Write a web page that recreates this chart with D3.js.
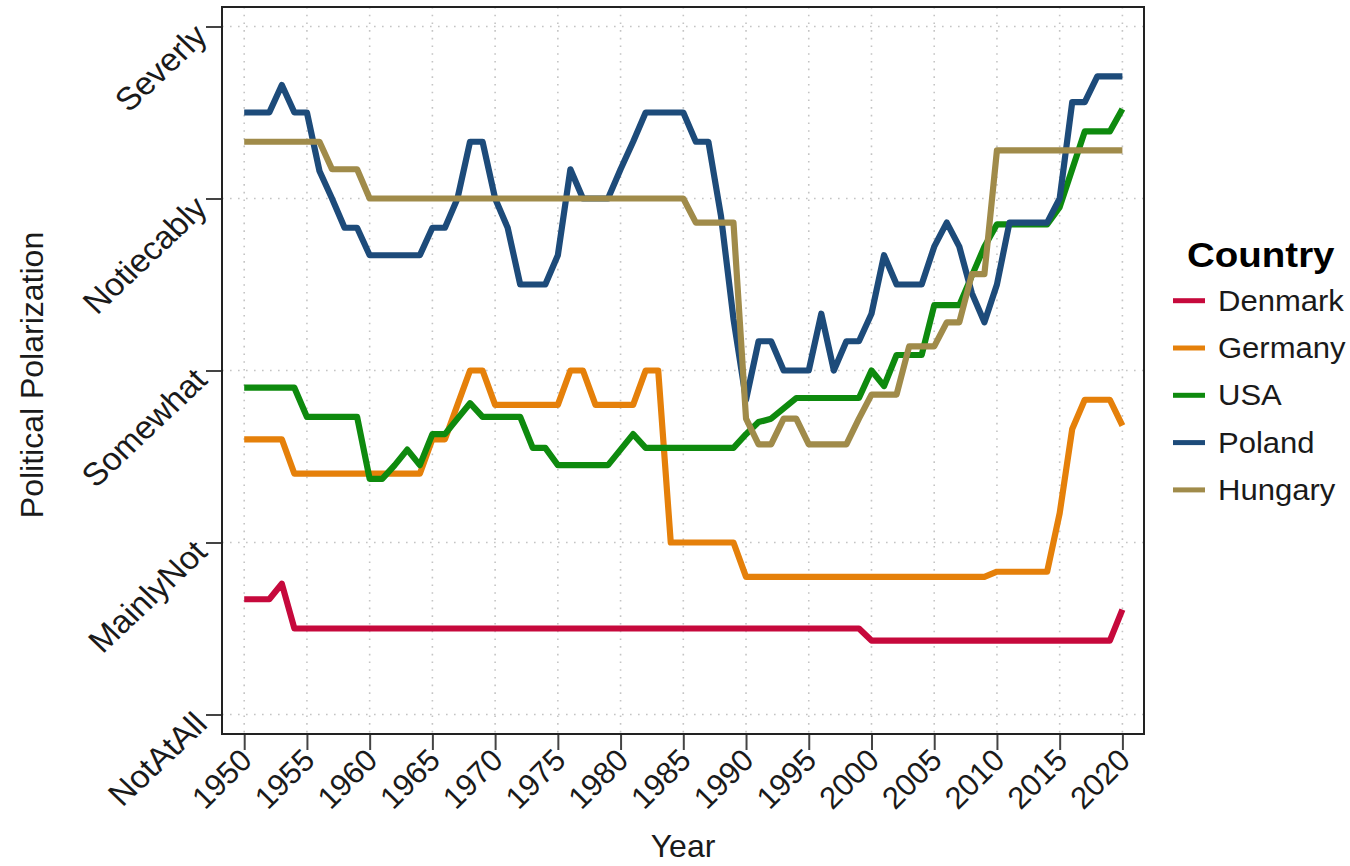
<!DOCTYPE html>
<html>
<head>
<meta charset="utf-8">
<script src="https://cdn.jsdelivr.net/npm/d3@7/dist/d3.min.js"></script>
<style>
  html, body { margin: 0; padding: 0; background: #fff; }
  svg { display: block; font-family: "Liberation Sans", Arial, Helvetica, sans-serif; }
</style>
</head>
<body>
<svg id="chart" width="1350" height="866"></svg>
<script>
// ---------- DATA ----------
const startYear = 1950, endYear = 2020;
const years = d3.range(startYear, endYear + 1);
const countries = ["Denmark", "Germany", "USA", "Poland", "Hungary"];
const colors = ["#C6093C", "#E5800A", "#0E8A0E", "#1D4B7A", "#A08B4A"];
const levelLabels = ["NotAtAll", "MainlyNot", "Somewhat", "Notiecably", "Severly"];
const xTickYears = d3.range(1950, 2021, 5);

// values per year 1950..2020
const denmark = [
  0.67,0.67,0.67,0.76,0.50,0.50,0.50,0.50,0.50,0.50,
  0.50,0.50,0.50,0.50,0.50,0.50,0.50,0.50,0.50,0.50,
  0.50,0.50,0.50,0.50,0.50,0.50,0.50,0.50,0.50,0.50,
  0.50,0.50,0.50,0.50,0.50,0.50,0.50,0.50,0.50,0.50,
  0.50,0.50,0.50,0.50,0.50,0.50,0.50,0.50,0.50,0.50,
  0.43,0.43,0.43,0.43,0.43,0.43,0.43,0.43,0.43,0.43,
  0.43,0.43,0.43,0.43,0.43,0.43,0.43,0.43,0.43,0.43,
  0.61];
const germany = [
  1.60,1.60,1.60,1.60,1.40,1.40,1.40,1.40,1.40,1.40,
  1.40,1.40,1.40,1.40,1.40,1.60,1.60,1.80,2.00,2.00,
  1.80,1.80,1.80,1.80,1.80,1.80,2.00,2.00,1.80,1.80,
  1.80,1.80,2.00,2.00,1.00,1.00,1.00,1.00,1.00,1.00,
  0.80,0.80,0.80,0.80,0.80,0.80,0.80,0.80,0.80,0.80,
  0.80,0.80,0.80,0.80,0.80,0.80,0.80,0.80,0.80,0.80,
  0.83,0.83,0.83,0.83,0.83,1.17,1.66,1.83,1.83,1.83,
  1.68];
const usa = [
  1.90,1.90,1.90,1.90,1.90,1.73,1.73,1.73,1.73,1.73,
  1.37,1.37,1.45,1.54,1.45,1.63,1.63,1.72,1.81,1.73,
  1.73,1.73,1.73,1.55,1.55,1.45,1.45,1.45,1.45,1.45,
  1.54,1.63,1.55,1.55,1.55,1.55,1.55,1.55,1.55,1.55,
  1.63,1.70,1.72,1.78,1.84,1.84,1.84,1.84,1.84,1.84,
  2.00,1.91,2.09,2.09,2.09,2.38,2.38,2.38,2.55,2.72,
  2.85,2.85,2.85,2.85,2.85,2.95,3.17,3.39,3.39,3.39,
  3.52];
const poland = [
  3.50,3.50,3.50,3.66,3.50,3.50,3.16,3.00,2.83,2.83,
  2.67,2.67,2.67,2.67,2.67,2.83,2.83,3.00,3.33,3.33,
  3.00,2.83,2.50,2.50,2.50,2.67,3.17,3.00,3.00,3.00,
  3.17,3.33,3.50,3.50,3.50,3.50,3.33,3.33,2.90,2.30,
  1.83,2.17,2.17,2.00,2.00,2.00,2.33,2.00,2.17,2.17,
  2.33,2.67,2.50,2.50,2.50,2.72,2.86,2.72,2.45,2.28,
  2.50,2.86,2.86,2.86,2.86,3.00,3.56,3.56,3.71,3.71,
  3.71];
const hungary = [
  3.33,3.33,3.33,3.33,3.33,3.33,3.33,3.17,3.17,3.17,
  3.00,3.00,3.00,3.00,3.00,3.00,3.00,3.00,3.00,3.00,
  3.00,3.00,3.00,3.00,3.00,3.00,3.00,3.00,3.00,3.00,
  3.00,3.00,3.00,3.00,3.00,3.00,2.86,2.86,2.86,2.86,
  1.72,1.57,1.57,1.72,1.72,1.57,1.57,1.57,1.57,1.72,
  1.86,1.86,1.86,2.14,2.14,2.14,2.28,2.28,2.56,2.56,
  3.28,3.28,3.28,3.28,3.28,3.28,3.28,3.28,3.28,3.28,
  3.28];
const seriesValues = [denmark, germany, usa, poland, hungary];

// ---------- LAYOUT ----------
const frame = { left: 222, right: 1144, top: 7, bottom: 734 };
const x = d3.scaleLinear().domain([startYear, endYear]).range([244.2, 1122.4]);
const y = d3.scaleLinear().domain([0, 4]).range([714.5, 26.5]);

const svg = d3.select("#chart");
const textColor = "#1a1a1a";

// grid
const grid = svg.append("g");
grid.selectAll("line.h").data(d3.range(0, 5)).enter().append("line")
  .attr("x1", frame.left).attr("x2", frame.right)
  .attr("y1", d => y(d)).attr("y2", d => y(d))
  .attr("stroke", "#c4c4c4").attr("stroke-width", 1.6)
  .attr("stroke-dasharray", "1.6,6.4");
grid.selectAll("line.v").data(xTickYears).enter().append("line")
  .attr("y1", frame.top).attr("y2", frame.bottom)
  .attr("x1", d => x(d)).attr("x2", d => x(d))
  .attr("stroke", "#c4c4c4").attr("stroke-width", 1.6)
  .attr("stroke-dasharray", "1.6,6.1");

// lines
const line = d3.line()
  .x((d, i) => x(years[i]))
  .y(d => y(d));
svg.append("g").selectAll("path").data(seriesValues).enter().append("path")
  .attr("d", d => line(d))
  .attr("fill", "none")
  .attr("stroke", (d, i) => colors[i])
  .attr("stroke-width", 6.2)
  .attr("stroke-linejoin", "round")
  .attr("stroke-linecap", "butt");

// frame
svg.append("rect")
  .attr("x", frame.left).attr("y", frame.top)
  .attr("width", frame.right - frame.left).attr("height", frame.bottom - frame.top)
  .attr("fill", "none").attr("stroke", "#222").attr("stroke-width", 2);

// y axis
const yAxis = d3.axisLeft(y).tickValues([0, 1, 2, 3, 4]).tickSize(15).tickFormat(d => levelLabels[d]);
const gy = svg.append("g").attr("transform", `translate(${frame.left - 1},0)`).call(yAxis);
gy.select(".domain").remove();
gy.selectAll(".tick line").attr("stroke", "#444").attr("stroke-width", 2);
gy.selectAll(".tick text")
  .attr("x", null).attr("dy", null)
  .attr("text-anchor", "end")
  .attr("fill", textColor)
  .attr("font-size", 32)
  .attr("transform", "translate(-12,11) scale(1.06,1) rotate(-45)");

// x axis
const xAxis = d3.axisBottom(x).tickValues(xTickYears).tickSize(15).tickFormat(d3.format("d"));
const gx = svg.append("g").attr("transform", `translate(0,${frame.bottom + 1})`).call(xAxis);
gx.select(".domain").remove();
gx.selectAll(".tick line").attr("stroke", "#444").attr("stroke-width", 2);
gx.selectAll(".tick text")
  .attr("y", null).attr("dy", null)
  .attr("text-anchor", "end")
  .attr("fill", textColor)
  .attr("font-size", 31)
  .attr("transform", "translate(9,27) rotate(-45)");

// axis titles
svg.append("text")
  .attr("x", 683).attr("y", 857)
  .attr("text-anchor", "middle")
  .attr("font-size", 32).attr("fill", textColor)
  .text("Year");
svg.append("text")
  .attr("transform", "translate(43,375) rotate(-90)")
  .attr("text-anchor", "middle")
  .attr("font-size", 32).attr("fill", textColor)
  .text("Political Polarization");

// legend
const legend = svg.append("g");
legend.append("text")
  .attr("transform", "translate(1187,267) scale(1.1,1)")
  .attr("font-size", 35).attr("font-weight", "bold").attr("fill", "#000")
  .text("Country");
const items = legend.selectAll("g.item").data(countries).enter().append("g")
  .attr("transform", (d, i) => `translate(0,${300.7 + i * 47.3})`);
items.append("line")
  .attr("x1", 1173).attr("x2", 1205).attr("y1", 0).attr("y2", 0)
  .attr("stroke", (d, i) => colors[i]).attr("stroke-width", 5);
items.append("text")
  .attr("transform", "translate(1218,10) scale(1.07,1)")
  .attr("font-size", 29).attr("fill", textColor)
  .text(d => d);
</script>
</body>
</html>
